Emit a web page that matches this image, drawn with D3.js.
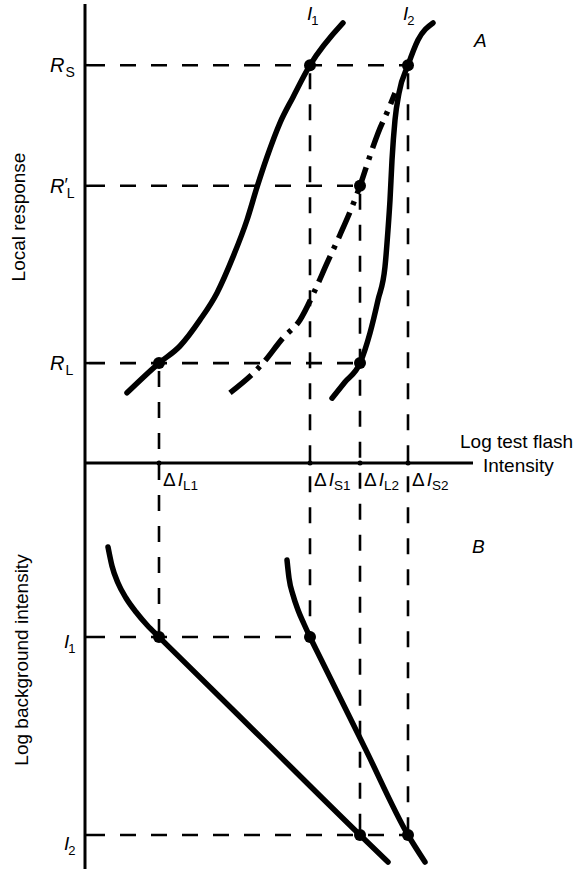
<!DOCTYPE html>
<html><head><meta charset="utf-8">
<script src="https://cdn.jsdelivr.net/npm/d3@7"></script>
<style>
body{margin:0;background:#fff}
text{font-family:"Liberation Sans",Arial,Helvetica,sans-serif;fill:#000}
</style>
</head><body>
<svg id="chart" width="580" height="869"></svg>
<script>
// ---- data (arbitrary log units) ----
const flashTickNames  = ["L1", "S1", "L2", "S2"];
const flashTickValues = [18.5, 56.25, 68.75, 80.75];
const responseNames   = ["S", "L′", "L"];
const responseValues  = [88.4, 61.6, 22.2];
const backgroundNames  = ["1", "2"];
const backgroundValues = [43.5, 93];

// Panel A: local response vs log test flash intensity
const curveTopI1 = [[10.5,15.6],[18.5,22.2],[23.75,26],[28.75,31.8],[33,37.8],[37,45.8],[40.5,54],[43,61.3],[45.5,68],[48.75,75.6],[52,81.3],[56.25,88.4],[64.5,97.8]];
const curveTopI2 = [[61.75,14.4],[65,18],[68.75,22.2],[71.25,28.9],[73.25,36.2],[75,43.6],[75.75,51.8],[76.25,58.4],[76.75,67.3],[77.5,76.2],[78.5,82.2],[80.75,88.4],[83.25,94],[87,97.8]];
const curveTopDashDot = [[36.25,15.6],[44.5,22.2],[49.5,27.8],[53.75,31.8],[57.5,38.4],[60.5,44.4],[63.75,50.7],[66.75,56.9],[68.75,61.6],[70.25,65.6],[73.25,73.3],[75.75,78.4],[77.5,82.2]];
// Panel B: log background intensity vs threshold
const curveBottomL = [[5.75,21],[6.75,25.75],[8.25,30],[10.25,33.75],[12.75,37.25],[15.5,40.5],[18.5,43.5],[21,45.96],[45,69.6],[68.75,93],[75.75,99.75]];
const curveBottomS = [[50.5,24.25],[51,28.75],[52,33],[53.25,36.75],[54.75,40.25],[56.25,43.5],[58.5,48.05],[70,71.28],[80.75,93],[85,99.75]];

// dots: [flash tick index, level index]
const topDots    = [[0,2],[1,0],[3,0],[2,1],[2,2]];
const bottomDots = [[0,0],[1,0],[2,1],[3,1]];

// ---- scales ----
const x    = d3.scaleLinear().domain([0, 97]).range([85, 473]);
const yTop = d3.scaleLinear().domain([0, 102]).range([463, 4]);
const yBot = d3.scaleLinear().domain([0, 101.5]).range([463, 869]);

const svg = d3.select("#chart");
const ink = "#000";

const lineTop = d3.line().x(d => x(d[0])).y(d => yTop(d[1])).curve(d3.curveMonotoneX);
const lineBot = d3.line().x(d => x(d[0])).y(d => yBot(d[1])).curve(d3.curveMonotoneX);

// ---- dashed guide lines ----
const dash = svg.append("g").attr("stroke", ink).attr("stroke-width", 2.6)
  .attr("stroke-dasharray", "16,15").attr("fill", "none");

responseValues.forEach((v, i) => {
  const xs = topDots.filter(d => d[1] === i).map(d => flashTickValues[d[0]]);
  dash.append("line").attr("x1", x(0) + 4).attr("x2", x(d3.max(xs)))
    .attr("y1", yTop(v)).attr("y2", yTop(v));
});
backgroundValues.forEach((v, i) => {
  const xs = bottomDots.filter(d => d[1] === i).map(d => flashTickValues[d[0]]);
  dash.append("line").attr("x1", x(0) + 4).attr("x2", x(d3.max(xs)))
    .attr("y1", yBot(v)).attr("y2", yBot(v));
});
flashTickValues.forEach((v, i) => {
  const topLv = d3.max(topDots.filter(d => d[0] === i).map(d => responseValues[d[1]]));
  const botLv = d3.max(bottomDots.filter(d => d[0] === i).map(d => backgroundValues[d[1]]));
  dash.append("line").attr("x1", x(v)).attr("x2", x(v))
    .attr("y1", yTop(topLv) + 8).attr("y2", yBot(botLv));
});

// ---- axes ----
const axes = svg.append("g").attr("stroke", ink).attr("stroke-width", 3).attr("fill", "none");
axes.append("line").attr("x1", x(0)).attr("x2", x(0)).attr("y1", yTop(102)).attr("y2", yBot(101.5));
axes.append("line").attr("x1", x(0)).attr("x2", x(97)).attr("y1", yTop(0)).attr("y2", yTop(0));
const tk = svg.append("g").attr("stroke", ink).attr("stroke-width", 2.5);
responseValues.forEach(v => tk.append("line").attr("x1", x(0)).attr("x2", x(0) + 4).attr("y1", yTop(v)).attr("y2", yTop(v)));
backgroundValues.forEach(v => tk.append("line").attr("x1", x(0)).attr("x2", x(0) + 4).attr("y1", yBot(v)).attr("y2", yBot(v)));
flashTickValues.forEach(v => svg.append("circle").attr("cx", x(v)).attr("cy", yTop(0)).attr("r", 2.5).attr("fill", ink));

// ---- curves ----
const curves = svg.append("g").attr("stroke", ink).attr("fill", "none").attr("stroke-width", 5.5);
curves.append("path").attr("d", lineTop(curveTopI1)).attr("stroke-linecap", "round");
curves.append("path").attr("d", lineTop(curveTopI2)).attr("stroke-linecap", "round");
curves.append("path").attr("d", lineTop(curveTopDashDot)).attr("stroke-dasharray", "28,8,4,8");
curves.append("path").attr("d", lineBot(curveBottomL)).attr("stroke-linecap", "round");
curves.append("path").attr("d", lineBot(curveBottomS)).attr("stroke-linecap", "round");

// ---- dots ----
topDots.forEach(d => svg.append("circle").attr("cx", x(flashTickValues[d[0]])).attr("cy", yTop(responseValues[d[1]])).attr("r", 6).attr("fill", ink));
bottomDots.forEach(d => svg.append("circle").attr("cx", x(flashTickValues[d[0]])).attr("cy", yBot(backgroundValues[d[1]])).attr("r", 6).attr("fill", ink));

// ---- text helpers ----
function rich(g, px, py, parts, size, anchor) {
  const t = g.append("text").attr("x", px).attr("y", py).attr("font-size", size)
    .attr("text-anchor", anchor || "start");
  parts.forEach(p => {
    const s = t.append("tspan").text(p.t);
    if (p.italic) s.attr("font-style", "italic");
    if (p.size) s.attr("font-size", p.size);
    if (p.dy) s.attr("dy", p.dy);
    if (p.dx) s.attr("dx", p.dx);
  });
  return t;
}
const labels = svg.append("g");

responseValues.forEach((v, i) => {
  const nm = responseNames[i];
  const y0 = yTop(v) + 7;
  if (nm.includes("′")) {
    rich(labels, 50, y0, [{t: "R", italic: true}, {t: "′", dx: 0, dy: -2, size: 18}, {t: "L", size: 14, dx: -1, dy: 7}], 20);
  } else {
    rich(labels, 50, y0, [{t: "R", italic: true}, {t: nm, size: 14, dx: 1, dy: 5}], 20);
  }
});
backgroundValues.forEach((v, i) => {
  rich(labels, 64, yBot(v) + (i === 0 ? 11 : 15), [{t: "I", italic: true}, {t: backgroundNames[i], size: 13, dx: -1, dy: 5}], 19);
});
rich(labels, x(flashTickValues[1]) - 3, 20, [{t: "I", italic: true}, {t: "1", size: 13, dx: -1, dy: 5}], 19);
rich(labels, x(flashTickValues[3]) - 5, 20, [{t: "I", italic: true}, {t: "2", size: 13, dx: -1, dy: 5}], 19);

flashTickValues.forEach((v, i) => {
  rich(labels, x(v) + 4, 486, [{t: "Δ"}, {t: "I", italic: true, dx: 2}, {t: flashTickNames[i], size: 13.5, dx: 0, dy: 4}], 19);
});

labels.append("text").attr("x", 474).attr("y", 47).attr("font-size", 19).attr("font-style", "italic").text("A");
labels.append("text").attr("x", 472).attr("y", 553).attr("font-size", 19).attr("font-style", "italic").text("B");

labels.append("text").attr("x", 460).attr("y", 448).attr("font-size", 19).text("Log test flash");
labels.append("text").attr("x", 483).attr("y", 472).attr("font-size", 19).text("Intensity");
labels.append("text").attr("transform", "translate(25,217) rotate(-90)").attr("text-anchor", "middle")
  .attr("font-size", 19).text("Local response");
labels.append("text").attr("transform", "translate(28,660) rotate(-90)").attr("text-anchor", "middle")
  .attr("font-size", 19).text("Log background intensity");
</script>
</body></html>
